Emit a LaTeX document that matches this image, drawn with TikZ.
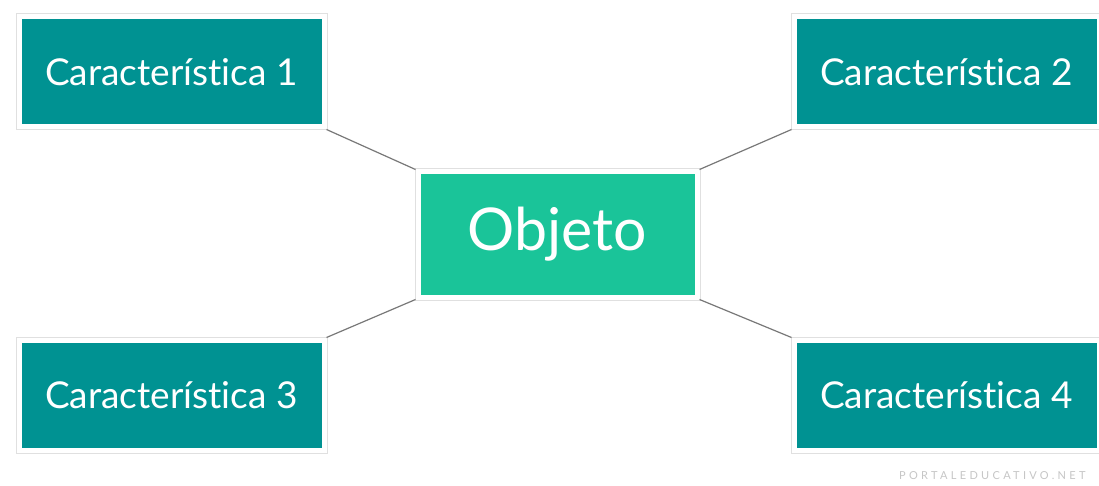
\documentclass[tikz,border=0pt]{standalone}
\usepackage{fontspec}
\setmainfont{Lato}[Ligatures=NoCommon]
\newfontfamily\marcafont[LetterSpace=30]{Lato}
\usetikzlibrary{shadows}

\definecolor{tealcaja}{RGB}{0,146,146}
\definecolor{verdeobj}{RGB}{26,196,153}
\definecolor{lineagris}{RGB}{120,120,120}

\tikzset{
  caja/.style={rectangle, fill=tealcaja, draw=white, line width=5pt,
    minimum width=305pt, minimum height=110pt, text=white,
    font=\fontsize{37}{41}\selectfont,
    preaction={draw=black!12, line width=7pt},
    drop shadow={shadow xshift=1pt, shadow yshift=-2.5pt, opacity=0.3, fill=gray}},
  objeto/.style={caja, fill=verdeobj, minimum width=279pt, minimum height=125pt,
    font=\fontsize{59}{63}\selectfont},
  enlace/.style={lineagris, line width=1.2pt}
}

\begin{document}
\begin{tikzpicture}[x=1pt, y=-1pt]
\useasboundingbox (0,0) rectangle (1099,486);
\clip (0,0) rectangle (1099,486);
\fill[white] (0,0) rectangle (1099,486);

\node[objeto] (obj) at (557.5,234.5) {Objeto};
\node[caja] (c1) at (171.5,72) {Característica 1};
\node[caja] (c2) at (946.5,72) {Característica 2};
\node[caja] (c3) at (171.5,395) {Característica 3};
\node[caja] (c4) at (946.5,395) {Característica 4};

\draw[enlace] (c1.south east) -- (obj.north west);
\draw[enlace] (c2.south west) -- (obj.north east);
\draw[enlace] (c3.north east) -- (obj.south west);
\draw[enlace] (c4.north west) -- (obj.south east);

\node[text=gray!45, font=\marcafont\fontsize{11}{12}\selectfont, anchor=east] (marca) at (1089,476) {PORTALEDUCATIVO.NET};
\end{tikzpicture}
\end{document}
